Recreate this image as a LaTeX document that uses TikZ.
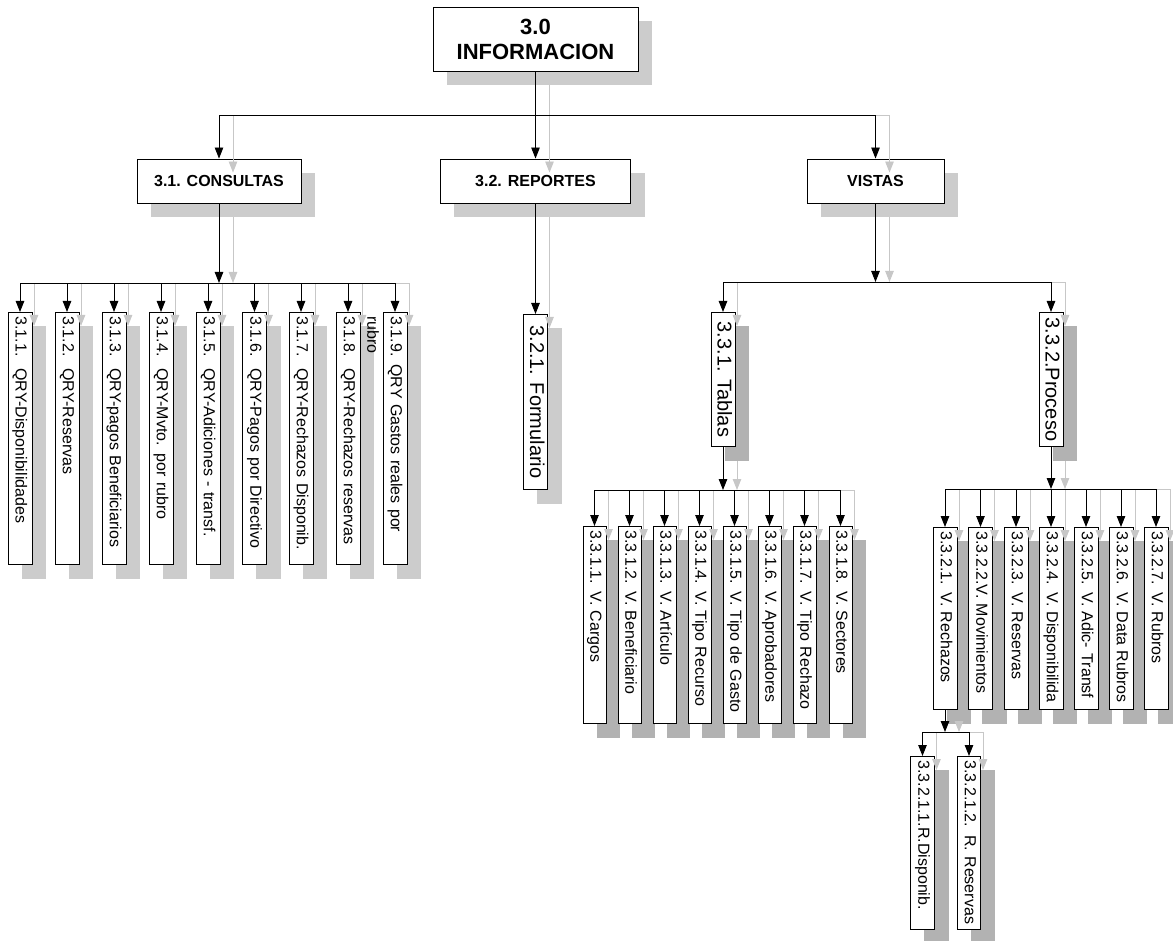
\documentclass[tikz,border=0pt]{standalone}
\usepackage{fontspec}
\setmainfont{Liberation Sans}
\usetikzlibrary{arrows.meta,backgrounds}
\tikzset{
	>={Triangle[length=11pt,width=8.5pt]},
	box/.style={
		draw=black, fill=white,
		line width=0.9pt,
		inner sep=0pt},
	topbox/.style={
		box,
		font=\fontsize{22}{25}\selectfont\bfseries,
		align=center,
		minimum width=205pt, minimum height=64pt},
	headbox/.style={
		box,
		font=\fontsize{16}{19}\selectfont\bfseries,
		minimum height=44pt},
	vbox/.style={
		box, rotate=-90, anchor=west,
		inner xsep=4pt,
		minimum height=24pt,
		font=\fontsize{16}{19}\selectfont,
		text height=12pt, text depth=3.5pt},
	qbox/.style={vbox, text width=244pt, align=left},
	tbox/.style={vbox, minimum height=23pt, text width=189pt, align=left},
	pbox/.style={vbox, text width=174pt, align=left},
	rbox/.style={vbox, minimum height=23.5pt, text width=165pt, align=left},
	bigbox/.style={vbox, font=\fontsize{20}{24}\selectfont,
		text height=15pt, text depth=4pt},
	overflow/.style={rotate=-90, anchor=west, inner xsep=4pt,
		font=\fontsize{16}{19}\selectfont},
	shadowlight/.style={fill=black!20},
	shadowdark/.style={fill=black!30},
	shadowlink/.style={color=black!22},
}
\newcommand{\qgap}{\hspace{12pt}}
% one parent, a bar at height #4, an arrow down to every child
\newcommand{\fan}[5]{%
	\coordinate (p) at ([shift={#1}]#3);
	\draw[#2] (p) -- (p |- 0,#4);
	\foreach \c in {#5}
		\draw[->] (p |- 0,#4) -| ([shift={#1}]\c);
}
\newcommand{\links}[1]{%
	\fan{#1}{-}{info.south}{115}{cons.north,rep.north,vis.north}
	\draw[->] ([shift={#1}]rep.south) -- ([shift={#1}]form.west);
	\fan{#1}{->}{cons.south}{283}{q1.west,q2.west,q3.west,q4.west,q5.west,q6.west,q7.west,q8.west,q9.west}
	\fan{#1}{->}{vis.south}{282}{tab.west,proc.west}
	\fan{#1}{->}{tab.east}{490}{t1.west,t2.west,t3.west,t4.west,t5.west,t6.west,t7.west,t8.west}
	\fan{#1}{->}{proc.east}{489}{p1.west,p2.west,p3.west,p4.west,p5.west,p6.west,p7.west}
	\fan{#1}{->}{p1.east}{732}{r1.west,r2.west}
}

\begin{document}
\begin{tikzpicture}[x=1pt,y=-1pt,line width=0.9pt]
	\useasboundingbox (0,0) rectangle (1173,941);

	% Top box and the three sections below it
	\node[topbox] (info) at (535.5,39) {3.0\\INFORMACION};
	\node[headbox, minimum width=164pt] (cons) at (219,181) {3.1. CONSULTAS};
	\node[headbox, minimum width=190pt] (rep) at (535.5,181) {3.2. REPORTES};
	\node[headbox, minimum width=137pt] (vis) at (875.5,181) {VISTAS};

	% Consultas
	\foreach \x/\t [count=\i] in {20/{3.1.1.\qgap QRY-Disponibilidades},
		67/{3.1.2.\qgap QRY-Reservas}, 114/{3.1.3.\qgap QRY-pagos Beneficiarios},
		161/{3.1.4.\qgap QRY-Mvto. por rubro}, 208/{3.1.5.\qgap QRY-Adiciones - transf.},
		254.5/{3.1.6.\qgap QRY-Pagos por Directivo}, 301/{3.1.7.\qgap QRY-Rechazos Disponib.},
		348/{3.1.8.\qgap QRY-Rechazos reservas}}
		\node[qbox] (q\i) at (\x,312) {\t};
	\node[qbox] (q9) at (395,312) {3.1.9. QRY Gastos reales por};
	\node[overflow] (rubro) at (373,312) {rubro};

	% Reportes
	\node[bigbox, minimum width=175pt] (form) at (535.5,314) {3.2.1. Formulario};

	% Vistas
	\node[bigbox, minimum width=134pt] (tab) at (723,312) {3.3.1. Tablas};
	\node[bigbox, minimum width=134pt] (proc) at (1051,312) {3.3.2.Proceso};
	\foreach \x/\t [count=\i] in {594.5/{3.3.1.1. V. Cargos}, 629.5/{3.3.1.2. V. Beneficiario},
		664.5/{3.3.1.3. V. Artículo}, 699.5/{3.3.1.4. V. Tipo Recurso},
		734.5/{3.3.1.5. V. Tipo de Gasto}, 769.5/{3.3.1.6. V. Aprobadores},
		804.5/{3.3.1.7. V. Tipo Rechazo}, 840.5/{3.3.1.8. V. Sectores}}
		\node[tbox] (t\i) at (\x,526) {\t};
	\foreach \x/\t [count=\i] in {945/{3.3.2.1. V. Rechazos}, 980.5/{3.3.2.2.V. Movimientos},
		1016/{3.3.2.3. V. Reservas}, 1051/{3.3.2.4. V. Disponibilida},
		1086/{3.3.2.5. V. Adic- Transf}, 1121/{3.3.2.6. V. Data Rubros},
		1156/{3.3.2.7. V. Rubros}}
		\node[pbox] (p\i) at (\x,527) {\t};
	\node[rbox] (r1) at (922.5,756) {3.3.2.1.1.R.Disponib.};
	\node[rbox] (r2) at (969,756) {3.3.2.1.2. R. Reservas};

	% Shadows of the boxes
	\begin{scope}[on background layer]
		\foreach \n in {info,cons,rep,vis,form,q1,q2,q3,q4,q5,q6,q7,q8,q9}
			\fill[shadowlight] ([shift={(14,14)}]\n.north west) rectangle ([shift={(14,14)}]\n.south east);
		\foreach \n in {tab,proc,t1,t2,t3,t4,t5,t6,t7,t8,p1,p2,p3,p4,p5,p6,p7,r1,r2}
			\fill[shadowdark] ([shift={(14,14)}]\n.north west) rectangle ([shift={(14,14)}]\n.south east);
	\end{scope}

	% Connectors: grey copy first, then the black ones
	\begin{scope}[shadowlink]
		\links{(14,14)}
	\end{scope}
	\links{(0,0)}
\end{tikzpicture}
\end{document}
